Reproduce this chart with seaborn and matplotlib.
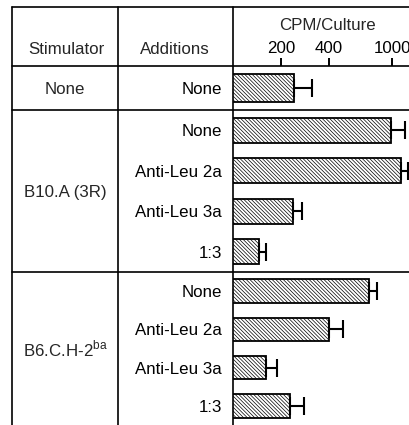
import matplotlib
matplotlib.use("Agg")
import matplotlib.pyplot as plt
from matplotlib.lines import Line2D
import seaborn as sns
import numpy as np
import pandas as pd

sns.set_style("white")
plt.rcParams['font.family'] = ['Liberation Sans', 'DejaVu Sans']
plt.rcParams['mathtext.fontset'] = 'custom'
plt.rcParams['mathtext.rm'] = 'Liberation Sans'
plt.rcParams['hatch.linewidth'] = 0.5

# ---- data ----
stimulators = ["None", "B10.A (3R)", "B6.C.H-2$^{\\mathrm{ba}}$"]
additions_g1 = ["None"]
additions_g2 = ["None", "Anti-Leu 2a", "Anti-Leu 3a", "1:3"]
additions_g3 = ["None", "Anti-Leu 2a", "Anti-Leu 3a", "1:3"]
cpm_g1 = [240]
cpm_g2 = [980, 1130, 238, 145]
cpm_g3 = [710, 403, 160, 229]
err_g1 = [72]
err_g2 = [217, 115, 33, 16]
err_g3 = [86, 89, 28, 48]
tick_values = [200, 400, 1000]
tick_labels = ["200", "400", "1000"]

W, H = 410, 425
fig = plt.figure(figsize=(W / 100, H / 100), dpi=100)

def fx(px):
    return px / W

def fy(py):
    return 1 - py / H

x_axis = 233
sections = [(66, 110), (110, 272), (272, 425)]
groups = [(additions_g1, cpm_g1, err_g1),
          (additions_g2, cpm_g2, err_g2),
          (additions_g3, cpm_g3, err_g3)]

FS = 12.2
axes = []
for i, ((top, bot), (adds, vals, errs)) in enumerate(zip(sections, groups)):
    ax = fig.add_axes([fx(x_axis), fy(bot), 1 - fx(x_axis), (bot - top) / H])
    df = pd.DataFrame({"Additions": adds, "CPM": vals})
    sns.barplot(data=df, x="CPM", y="Additions", orient="h", ax=ax,
                color="white", edgecolor="black", linewidth=1.3,
                hatch="\\" * 9, width=0.62, errorbar=None)
    for p in ax.patches:
        p.set_facecolor("white")
        p.set_edgecolor("black")
    ax.set_xscale("log")
    pos = np.arange(len(vals))
    ax.errorbar(x=vals, y=pos, xerr=[np.zeros(len(errs)), errs], fmt="none",
                ecolor="black", elinewidth=1.5, capsize=6.5, capthick=1.5)
    ax.set_xlim(100, 1290)
    ax.set_ylim(len(vals) - 0.5, -0.5)
    for s in ax.spines.values():
        s.set_visible(False)
    ax.set_xlabel("")
    ax.set_ylabel("")
    ax.minorticks_off()
    ax.tick_params(axis="y", length=0, pad=8, labelsize=FS)
    for lab in ax.get_yticklabels():
        lab.set_color("black")
    if i == 0:
        ax.xaxis.tick_top()
        ax.set_xticks(tick_values)
        ax.set_xticklabels(tick_labels)
        ax.tick_params(axis="x", which="major", top=True, bottom=False,
                       direction="out", length=6, width=1.4, pad=1,
                       labelsize=FS, colors="black")
    else:
        ax.set_xticks([])
    ax.patch.set_alpha(0)
    axes.append(ax)

# table lines
lw = 1.2
for y in [7, 66, 110, 272]:
    fig.add_artist(Line2D([fx(12), 1], [fy(y), fy(y)], color="black", lw=lw))
for x in [12, 118, x_axis]:
    fig.add_artist(Line2D([fx(x), fx(x)], [fy(7), 0], color="black", lw=lw))

# header texts
fig.text(fx(66), fy(50), "Stimulator", ha="center", va="center", fontsize=FS)
fig.text(fx(175), fy(50), "Additions", ha="center", va="center", fontsize=FS)
fig.text(fx(327), fy(25), "CPM/Culture", ha="center", va="center", fontsize=FS)

# stimulator texts
for (top, bot), name in zip(sections, stimulators):
    fig.text(fx(65), fy((top + bot) / 2 + 1), name, ha="center", va="center",
             fontsize=FS)

fig.savefig("out.png", dpi=100)
